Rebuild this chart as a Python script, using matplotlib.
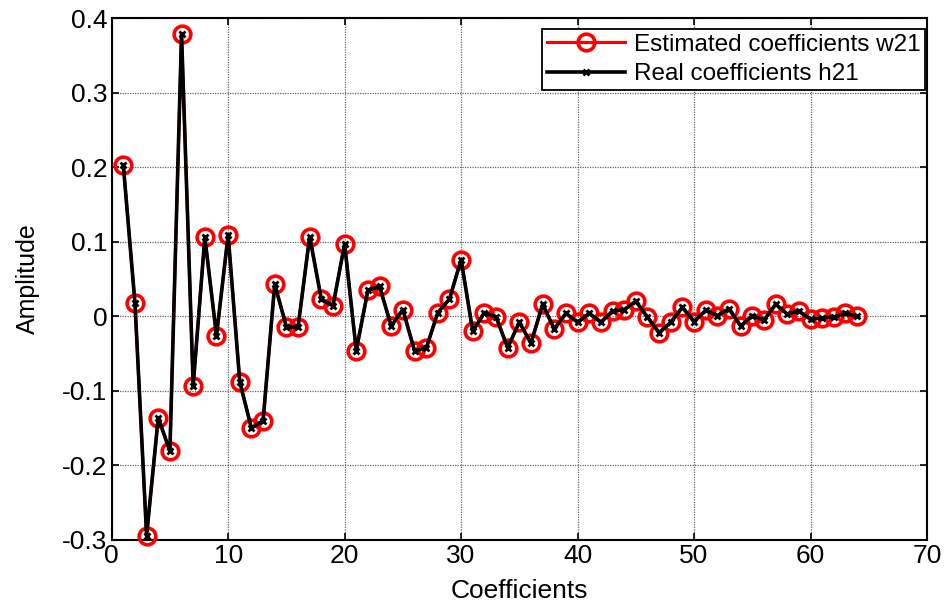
import matplotlib
matplotlib.use('Agg')
import matplotlib.pyplot as plt
from matplotlib.ticker import FuncFormatter


# coeficientes do filtro (indice 1..64)
coef_index = list(range(1, 65))
w21 = [0.203, 0.018, -0.294, -0.136, -0.181, 0.378, -0.093, 0.106, -0.026, 0.109,
       -0.088, -0.150, -0.140, 0.043, -0.014, -0.015, 0.107, 0.023, 0.014, 0.097,
       -0.046, 0.035, 0.040, -0.013, 0.009, -0.046, -0.043, 0.005, 0.023, 0.076,
       -0.020, 0.005, -0.001, -0.042, -0.008, -0.036, 0.016, -0.017, 0.004, -0.008,
       0.004, -0.008, 0.007, 0.009, 0.020, -0.001, -0.022, -0.008, 0.012, -0.007,
       0.008, 0.001, 0.010, -0.013, 0.001, -0.005, 0.016, 0.003, 0.007, -0.004,
       -0.002, -0.001, 0.004, 0.000]
h21 = list(w21)

x_ticks = [0, 10, 20, 30, 40, 50, 60, 70]
y_ticks = [-0.3, -0.2, -0.1, 0, 0.1, 0.2, 0.3, 0.4]

plt.rcParams['font.family'] = ['Liberation Sans', 'DejaVu Sans']
plt.rcParams['axes.unicode_minus'] = False

fig = plt.figure(figsize=(9.51, 6.03), dpi=100)
ax = fig.add_axes([0.1174, 0.1045, 0.8574, 0.8656])

ax.plot(coef_index, w21, color='red', lw=2.2, marker='o', ms=12,
        mfc='none', mec='red', mew=2.6, clip_on=False, zorder=3,
        label='Estimated coefficients w21')
ax.plot(coef_index, h21, color='black', lw=2.6, marker='x', ms=5,
        mew=2.0, clip_on=False, zorder=4,
        label='Real coefficients h21')

ax.set_xlim(0, 70)
ax.set_ylim(-0.3, 0.4)
ax.set_xticks(x_ticks)
ax.set_yticks(y_ticks)
ax.xaxis.set_major_formatter(FuncFormatter(lambda v, p: '%g' % v))
ax.yaxis.set_major_formatter(FuncFormatter(lambda v, p: '%g' % round(v, 2)))
ax.grid(True, color='#666666', lw=0.9, linestyle=(0, (1, 1)))
ax.set_axisbelow(True)
ax.tick_params(direction='in', length=5, width=1.2, top=True, right=True,
               labelsize=19, pad=3)
for s in ax.spines.values():
    s.set_linewidth(1.5)

ax.set_xlabel('Coefficients', fontsize=19, labelpad=8)
ax.set_ylabel('Amplitude', fontsize=18, labelpad=16)

leg = ax.legend(loc='upper right', bbox_to_anchor=(925 / 951, 1 - 29 / 603),
                bbox_transform=fig.transFigure, fontsize=17.5, fancybox=False,
                framealpha=1, edgecolor='black', handlelength=3.2,
                borderpad=0.2, labelspacing=0.3, handletextpad=0.35,
                borderaxespad=0)
leg.get_frame().set_linewidth(1.3)

fig.savefig('out.png', dpi=100)
